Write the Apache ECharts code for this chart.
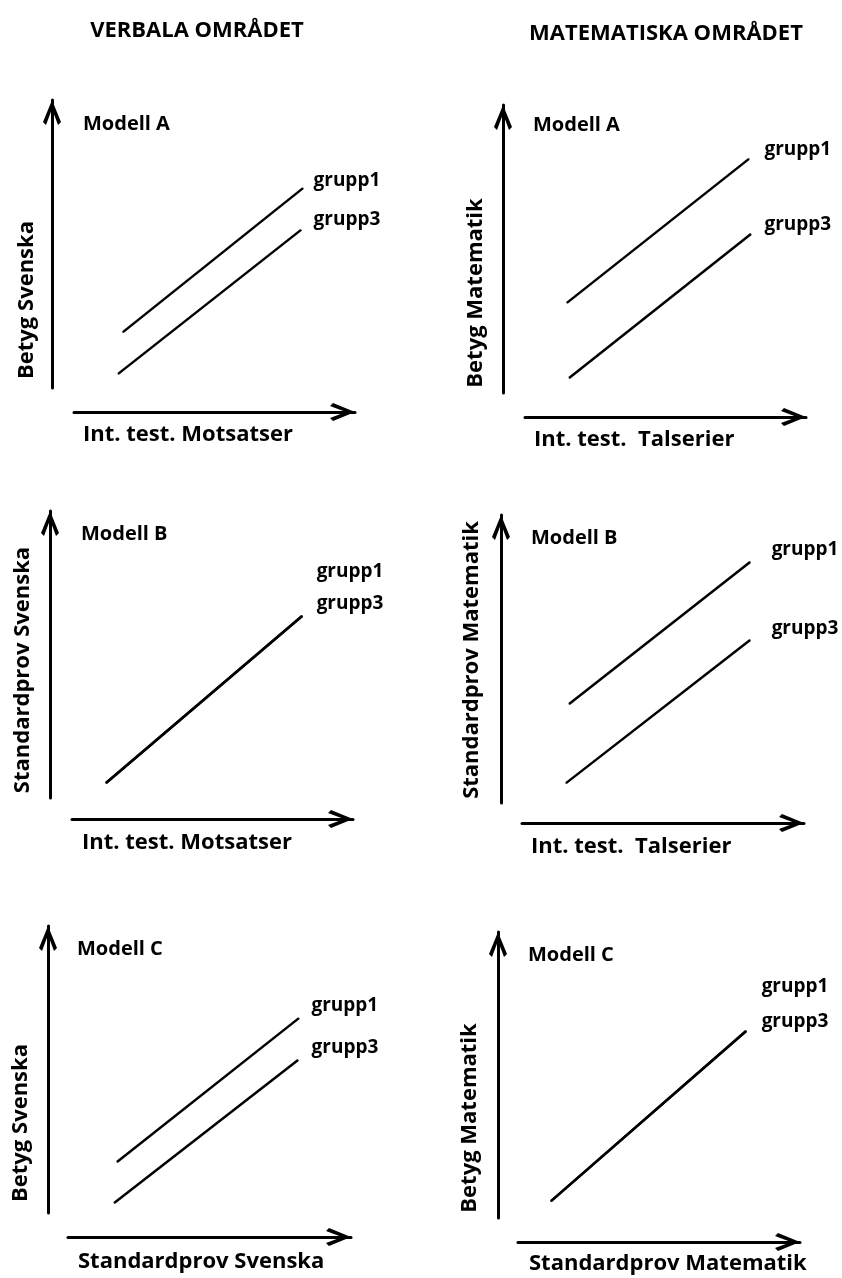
<!DOCTYPE html>
<html>
<head>
<meta charset="utf-8">
<script src="https://cdn.jsdelivr.net/npm/echarts@6/dist/echarts.min.js"></script>
<style>
  html, body { margin: 0; padding: 0; background: #fff; }
  #main { width: 842px; height: 1278px; }
</style>
</head>
<body>
<div id="main"></div>
<script>
// kolumnrubriker
const columnTitles = ['VERBALA OMRÅDET', 'MATEMATISKA OMRÅDET'];
// en rad per panel: verbal A, matem A, verbal B, matem B, verbal C, matem C
const modelNames = ['Modell A', 'Modell A', 'Modell B', 'Modell B', 'Modell C', 'Modell C'];
const yNames = ['Betyg Svenska', 'Betyg Matematik', 'Standardprov Svenska',
  'Standardprov Matematik', 'Betyg Svenska', 'Betyg Matematik'];
const xNames = ['Int. test. Motsatser', 'Int. test.  Talserier', 'Int. test. Motsatser',
  'Int. test.  Talserier', 'Standardprov Svenska', 'Standardprov Matematik'];
const groupNames = ['grupp1', 'grupp3'];

// linjernas ändpunkter [x, y] i axelenheter 0-100
const grupp1 = [
  [[17.4, 19.4], [81.5, 69.4]],
  [[14.9, 31.3], [79.7, 81.3]],
  [[12.1, 5.2], [81.9, 63.4]],
  [[16.7, 34.4], [80.9, 83.7]],
  [[17.3, 17.8], [81.6, 67.9]],
  [[11.7, 5.9], [80.9, 65.4]]
];
const grupp3 = [
  [[15.7, 4.9], [80.8, 54.9]],
  [[15.7, 5.2], [80.4, 55.2]],
  [[12.1, 5.2], [81.9, 63.4]],
  [[15.6, 6.9], [80.9, 56.6]],
  [[16.3, 3.5], [81.3, 53.3]],
  [[11.7, 5.9], [80.9, 65.4]]
];

// layout per panel (pixlar)
const panels = [
  { grid: { left: 74, top: 100, width: 281, height: 288 }, xOff: 24, yOff: 22,
    model: [83, 124], yName: [27, 300], xName: [83, 435], lab: [[5, -8], [7, -10]] },
  { grid: { left: 525, top: 105, width: 281, height: 288 }, xOff: 24, yOff: 22,
    model: [533, 125], yName: [476, 293], xName: [534, 440], lab: [[10, -9], [8, -9]] },
  { grid: { left: 72, top: 511, width: 281, height: 287 }, xOff: 21, yOff: 22,
    model: [81, 534], yName: [23, 670], xName: [82, 843], lab: [[9, -44], [9, -12]] },
  { grid: { left: 522, top: 515, width: 282, height: 288 }, xOff: 20, yOff: 21,
    model: [531, 538], yName: [472, 660], xName: [531, 847], lab: [[16, -12], [16, -11]] },
  { grid: { left: 68, top: 926, width: 283, height: 287 }, xOff: 24, yOff: 20,
    model: [77, 949], yName: [21, 1123], xName: [78, 1262], lab: [[7, -13], [8, -12]] },
  { grid: { left: 518, top: 932, width: 282, height: 286 }, xOff: 24, yOff: 20,
    model: [528, 955], yName: [470, 1118], xName: [529, 1264], lab: [[10, -44], [10, -9]] }
];

const FONT = '"Open Sans", "DejaVu Sans", sans-serif';
const arrow = 'path://M9,0 L18,22 L15,25 L9,9 L3,25 L0,22 Z';

function axisLine() {
  return {
    show: true,
    onZero: false,
    symbol: ['none', arrow],
    symbolSize: [18, 25],
    symbolOffset: [0, -12.5],
    lineStyle: { color: '#000', width: 3 }
  };
}

function txt(x, y, s, size, align, rot) {
  return {
    type: 'text', x: x, y: y, rotation: rot || 0,
    style: { text: s, font: 'bold ' + size + 'px ' + FONT, fill: '#000',
      align: align, verticalAlign: 'middle', textAlign: align, textVerticalAlign: 'middle' }
  };
}

const grids = [], xAxes = [], yAxes = [], series = [];
const texts = [txt(197, 31, columnTitles[0], 22, 'center'), txt(666, 34, columnTitles[1], 22, 'center')];

panels.forEach(function (p, i) {
  grids.push(p.grid);
  xAxes.push({
    type: 'value', gridIndex: i, min: 0, max: 100, position: 'bottom', offset: p.xOff,
    axisLine: axisLine(), axisTick: { show: false }, axisLabel: { show: false }, splitLine: { show: false }
  });
  yAxes.push({
    type: 'value', gridIndex: i, min: 0, max: 100, position: 'left', offset: p.yOff,
    axisLine: axisLine(), axisTick: { show: false }, axisLabel: { show: false }, splitLine: { show: false }
  });
  [grupp1[i], grupp3[i]].forEach(function (pts, g) {
    series.push({
      name: groupNames[g],
      type: 'line',
      xAxisIndex: i,
      yAxisIndex: i,
      symbol: 'circle',
      symbolSize: 1,
      animation: false,
      silent: true,
      itemStyle: { color: '#000' },
      lineStyle: { color: '#000', width: 2.5 },
      data: [
        pts[0],
        {
          value: pts[1],
          label: {
            show: true, position: 'right', distance: 5, offset: p.lab[g],
            formatter: '{a}', color: '#000', fontFamily: FONT, fontWeight: 'bold', fontSize: 19
          }
        }
      ]
    });
  });
  texts.push(
    txt(p.model[0], p.model[1], modelNames[i], 20, 'left'),
    txt(p.xName[0], p.xName[1], xNames[i], 22, 'left'),
    txt(p.yName[0], p.yName[1], yNames[i], 22, 'center', Math.PI / 2)
  );
});

const chart = echarts.init(document.getElementById('main'));
chart.setOption({
  backgroundColor: '#fff',
  animation: false,
  grid: grids,
  xAxis: xAxes,
  yAxis: yAxes,
  series: series,
  graphic: texts
});
</script>
</body>
</html>
